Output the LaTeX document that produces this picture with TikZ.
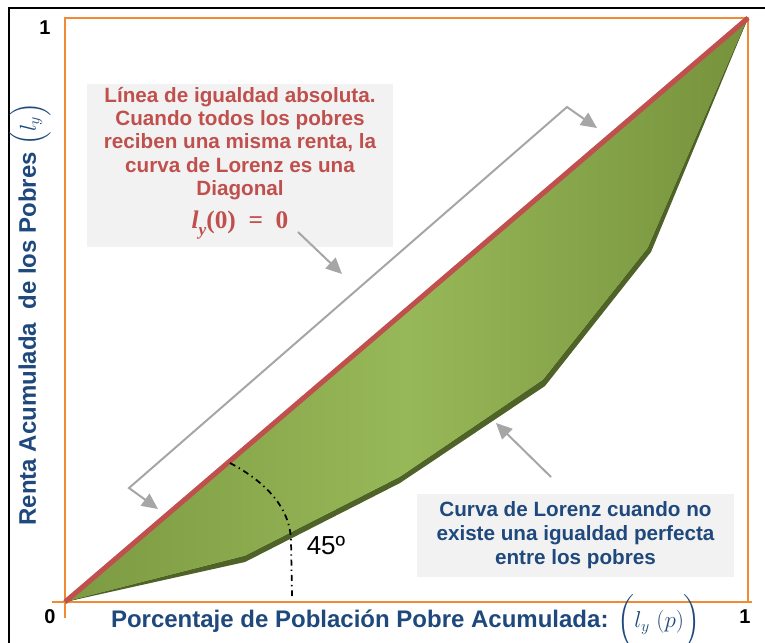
\documentclass[tikz,border=0pt]{standalone}
\usepackage{amsmath}
\usepackage{fontspec}
\setmainfont{Liberation Sans}
\newfontfamily\formula{Liberation Serif}
\usetikzlibrary{arrows.meta}

\definecolor{naranja}{HTML}{F08A34}
\definecolor{rojo}{HTML}{C0504D}
\definecolor{azul}{HTML}{1F497D}
\definecolor{verdeosc}{HTML}{4F6228}
\definecolor{verdeA}{HTML}{7C9A42}
\definecolor{verdeB}{HTML}{97B858}
\definecolor{verdeC}{HTML}{76923C}
\definecolor{gris}{HTML}{A6A6A6}
\definecolor{fondo}{HTML}{F2F2F2}

\tikzset{
	eje/.style={draw=naranja, line width=1.5pt},
	flecha/.style={draw=gris, line width=1.5pt},
	nota/.style={fill=fondo, align=center, inner sep=0pt, font=\bfseries\fontsize{15.5}{17.5}\selectfont},
	numero/.style={font=\bfseries\fontsize{15}{16}\selectfont},
	etiqueta/.style={text=azul, inner sep=1pt, font=\bfseries\fontsize{18}{20}\selectfont},
}

\begin{document}
\begin{tikzpicture}[x=0.75pt, y=-0.75pt, >={Triangle[length=12pt,width=11pt]}]
		\useasboundingbox (0,0) rectangle (765,643);
		\draw[line width=2pt] (9,643) -- (9,8) -- (765,8);
		
		\draw[eje] (65,618) -- (65,18) -- (748,18) -- (748,602);
		\draw[eje] (52,602) -- (752,602);
		\coordinate (O) at (65,602);
		\coordinate (E) at (748,18);
		
		\fill[verdeosc] (O) -- (245,562) -- (400,483) -- (545,386) -- (651,252) -- (E) -- cycle;
		\fill[left color=verdeA, right color=verdeC, middle color=verdeB] (O) -- (245,556) -- (400,477) -- (543,380) -- (648,248) -- (E) -- cycle;
		\draw[rojo, line width=3.75pt] (O) -- (E);
		
		\draw[dash pattern=on 4.5pt off 3pt on 1pt off 3pt, line width=1.3pt] (230,463) .. controls (266,482) and (290,508) .. (291,540) -- (292,596);
		\node (ang) at (326,546) {\fontsize{19.5}{20}\selectfont 45º};
		
		\node[numero] (uno) at (45,28) {1};
		\node[numero] (cero) at (50,617) {0};
		\node[numero] (unox) at (745,617) {1};
		\node[etiqueta] (ejex) at (406,622) {Porcentaje de Población Pobre Acumulada: $\bigg(l_y\;(p)\bigg)$};
		\node[etiqueta, rotate=90] (ejey) at (30,314) {Renta Acumulada~~de los Pobres $\Big(l_y\Big)$};
		
		\node[nota, text=rojo, minimum width=229.5pt, minimum height=122pt, text depth=12pt] (nota1) at (240,165.5)
			{Línea de igualdad absoluta.\\ Cuando todos los pobres\\ reciben una misma renta, la\\ curva de Lorenz es una\\ Diagonal\\[7pt] {\formula\fontsize{19}{20}\selectfont\bfseries{\itshape l}\raisebox{-0.3em}{\fontsize{13}{13}\selectfont\itshape y}(0)\enspace=\enspace0}};
		\node[nota, text=azul, minimum width=238pt, minimum height=62pt, font=\bfseries\fontsize{15.5}{18}\selectfont] (nota2) at (575.5,535.5)
			{Curva de Lorenz cuando no\\ existe una igualdad perfecta\\ entre los pobres};
		
		\coordinate (b1) at (158,509);
		\coordinate (b2) at (129,488);
		\coordinate (b3) at (567,107);
		\coordinate (b4) at (597,128);
		\draw[flecha, <->] (b1) -- (b2) -- (b3) -- (b4);
		\coordinate (t1) at (298,232);
		\coordinate (p1) at (342,274);
		\draw[flecha, ->] (t1) -- (p1);
		\coordinate (t2) at (551,477);
		\coordinate (p2) at (496,423);
		\draw[flecha, ->] (t2) -- (p2);
	\end{tikzpicture}
\end{document}
